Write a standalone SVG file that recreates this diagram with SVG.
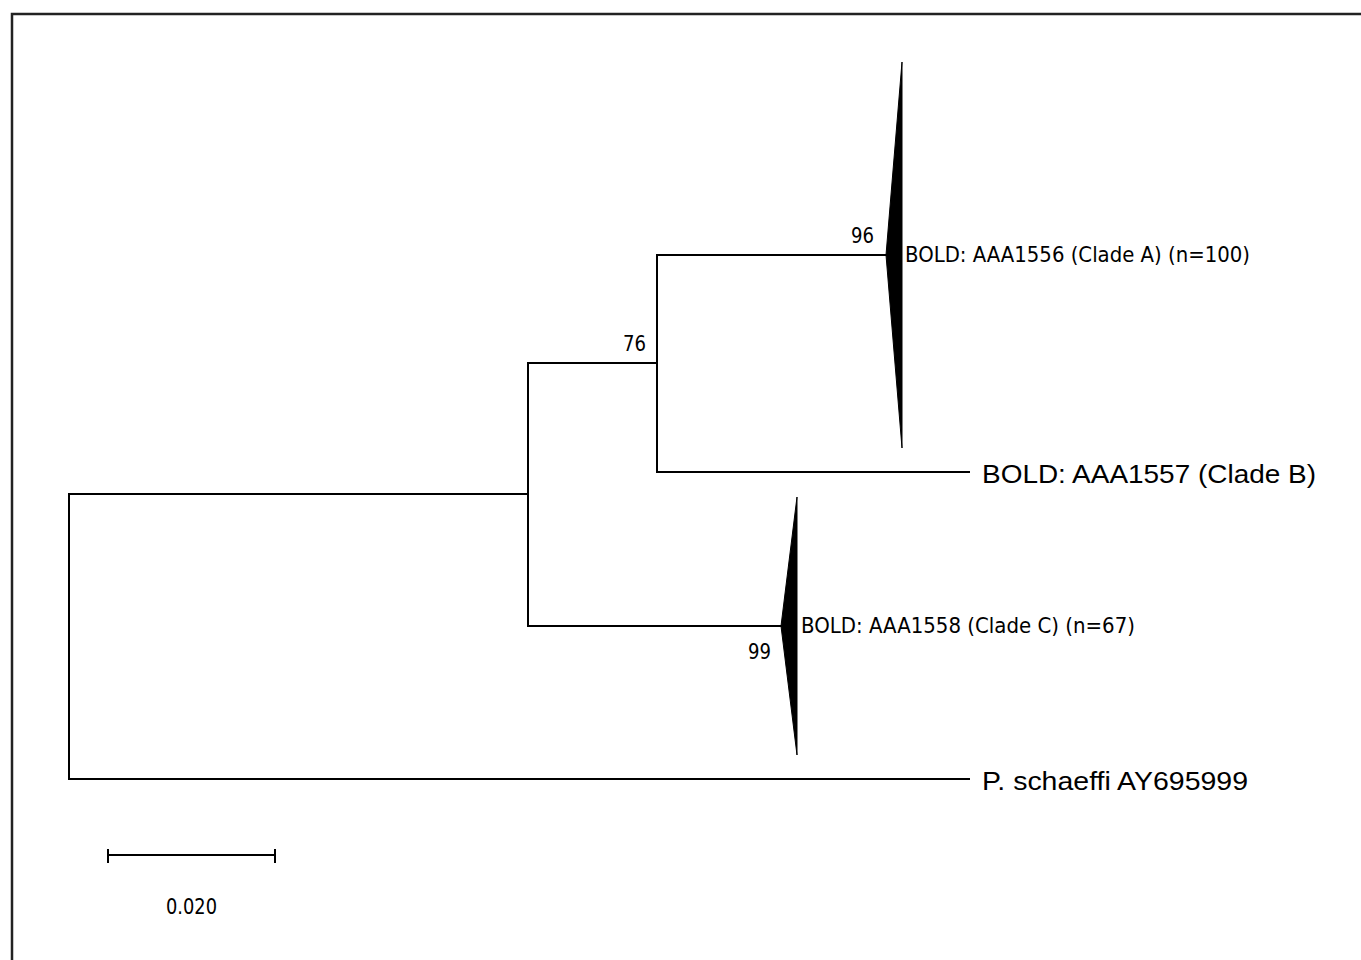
<svg xmlns="http://www.w3.org/2000/svg" width="1361" height="960" viewBox="0 0 1361 960">
<style>
.br{fill:none;stroke:#000;stroke-width:2;stroke-linecap:square}
.clade{fill:#000;stroke:#000;stroke-width:1}
.small{font-family:"DejaVu Sans",Tahoma,sans-serif;font-size:20.5px;fill:#000}
.big{font-family:"Liberation Sans",Arial,sans-serif;font-size:26px;fill:#000}
</style>
<rect width="1361" height="960" fill="#fff"/>
<polyline points="12,960 12,14 1361,14" fill="none" stroke="#222" stroke-width="2.5"/>
<g id="connectors">
<polyline class="br" points="528,494 69,494 69,779 969,779"/>
<polyline class="br" points="657,363 528,363 528,626 781,626"/>
<polyline class="br" points="886,255 657,255 657,472 969,472"/>
</g>
<g id="cladeA">
<polygon class="clade" points="902,62 886,255 902,448"/>
<text class="small" x="905" y="262" textLength="345" lengthAdjust="spacingAndGlyphs">BOLD: AAA1556 (Clade A) (n=100)</text>
</g>
<g id="cladeB">
<text class="big" x="982" y="483" textLength="334" lengthAdjust="spacingAndGlyphs">BOLD: AAA1557 (Clade B)</text>
</g>
<g id="cladeC">
<polygon class="clade" points="797,497 781,626 797,755"/>
<text class="small" x="801" y="633" textLength="334" lengthAdjust="spacingAndGlyphs">BOLD: AAA1558 (Clade C) (n=67)</text>
</g>
<g id="outgroup">
<text class="big" x="982" y="790" textLength="266" lengthAdjust="spacingAndGlyphs">P. schaeffi AY695999</text>
</g>
<g id="support">
<text class="small" x="851" y="243" textLength="23" lengthAdjust="spacingAndGlyphs">96</text>
<text class="small" x="623" y="351" textLength="23" lengthAdjust="spacingAndGlyphs">76</text>
<text class="small" x="748" y="659" textLength="23" lengthAdjust="spacingAndGlyphs">99</text>
</g>
<g id="scalebar">
<path d="M108,855 H275 M108,849 V863 M275,849 V863" fill="none" stroke="#000" stroke-width="2"/>
<text class="small" x="166" y="914" textLength="51" lengthAdjust="spacingAndGlyphs">0.020</text>
</g>
</svg>
